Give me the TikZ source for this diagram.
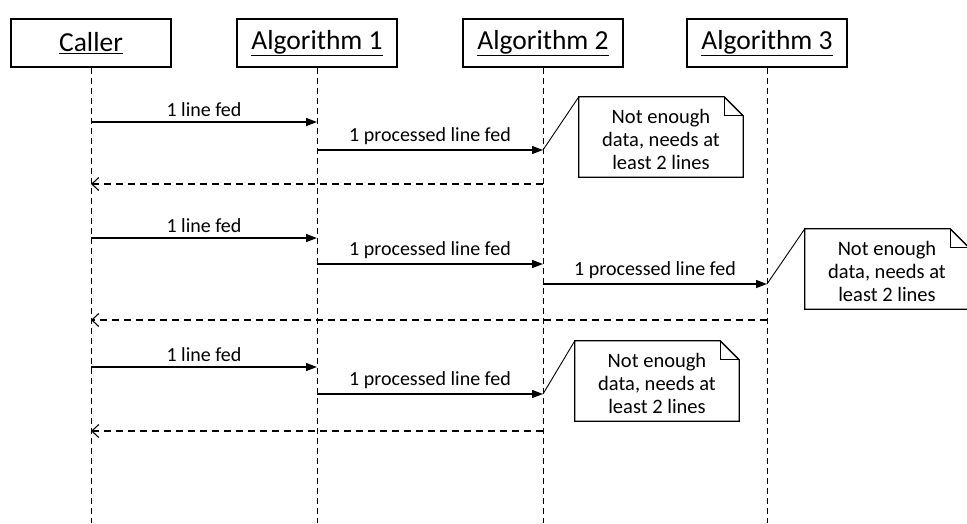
\documentclass[tikz,border=0pt]{standalone}
\usepackage{fontspec}
\setmainfont{Carlito}
\usetikzlibrary{arrows.meta}
\begin{document}
\begin{tikzpicture}[x=1pt,y=-1pt,
  head/.style={draw,line width=1.4pt,minimum width=160pt,minimum height=48pt,inner sep=0pt,font=\fontsize{27.5}{32}\selectfont},
  life/.style={line width=0.8pt,dash pattern=on 6pt off 4pt},
  msg/.style={line width=1.3pt,-{Triangle[length=11pt,width=8pt]}},
  ret/.style={line width=1.1pt,dash pattern=on 7pt off 5pt,-{Straight Barb[length=7pt,width=13pt,line width=1.1pt]}},
  lbl/.style={font=\fontsize{20}{24}\selectfont,inner sep=2pt,above=3pt},
  note/.style={minimum width=164pt,minimum height=80pt,inner sep=0pt,align=center,font=\fontsize{20.5}{23}\selectfont},
  notebox/.style={line width=1.3pt},
  link/.style={line width=0.9pt}
]
\useasboundingbox (0,0) rectangle (967,523);
% headers
\node[head] (caller) at (91,43) {\underline{Caller}};
\node[head] (alg1) at (317,43) {\underline{Algorithm 1}};
\node[head] (alg2) at (543,43) {\underline{Algorithm 2}};
\node[head] (alg3) at (767,43) {\underline{Algorithm 3}};
\coordinate (callerE) at (91,523);
\coordinate (alg1E) at (317,523);
\coordinate (alg2E) at (543,523);
\coordinate (alg3E) at (767,523);
\draw[life] (caller.south) -- (callerE);
\draw[life] (alg1.south) -- (alg1E);
\draw[life] (alg2.south) -- (alg2E);
\draw[life] (alg3.south) -- (alg3E);
% message points
\coordinate (a1) at (91,122);  \coordinate (b1) at (317,122);
\coordinate (a2) at (317,150); \coordinate (b2) at (543,150);
\coordinate (a3) at (543,184); \coordinate (b3) at (91,184);
\coordinate (a4) at (91,238);  \coordinate (b4) at (317,238);
\coordinate (a5) at (317,264); \coordinate (b5) at (543,264);
\coordinate (a6) at (543,284); \coordinate (b6) at (767,284);
\coordinate (a7) at (767,320); \coordinate (b7) at (91,320);
\coordinate (a8) at (91,367);  \coordinate (b8) at (317,367);
\coordinate (a9) at (317,394); \coordinate (b9) at (543,394);
\coordinate (a10) at (543,431); \coordinate (b10) at (91,431);
% round 1
\draw[msg] (a1) -- node[lbl] (l1) {1 line fed} (b1);
\draw[msg] (a2) -- node[lbl] (l2) {1 processed line fed} (b2);
\draw[ret] (a3) -- (b3);
% round 2
\draw[msg] (a4) -- node[lbl] (l4) {1 line fed} (b4);
\draw[msg] (a5) -- node[lbl] (l5) {1 processed line fed} (b5);
\draw[msg] (a6) -- node[lbl] (l6) {1 processed line fed} (b6);
\draw[ret] (a7) -- (b7);
% round 3
\draw[msg] (a8) -- node[lbl] (l8) {1 line fed} (b8);
\draw[msg] (a9) -- node[lbl] (l9) {1 processed line fed} (b9);
\draw[ret] (a10) -- (b10);
% notes
\foreach \n/\x/\y in {n1/661/137, n2/887/269, n3/657/381}{
  \node[note] (\n) at (\x,\y) {\raisebox{-5pt}[\height][\depth]{\begin{tabular}{@{}c@{}}Not enough\\data, needs at\\least 2 lines\end{tabular}}};
  \draw[notebox] (\n.north west) -- ([xshift=-19pt]\n.north east) -- ([yshift=-19pt]\n.north east) -- (\n.south east) -- (\n.south west) -- cycle;
  \draw[notebox] ([xshift=-19pt]\n.north east) -- ([xshift=-19pt,yshift=-19pt]\n.north east) -- ([yshift=-19pt]\n.north east);
}
\draw[link] (b2) -- (n1.north west);
\draw[link] (b6) -- (n2.north west);
\draw[link] (b9) -- (n3.north west);
\end{tikzpicture}
\end{document}
